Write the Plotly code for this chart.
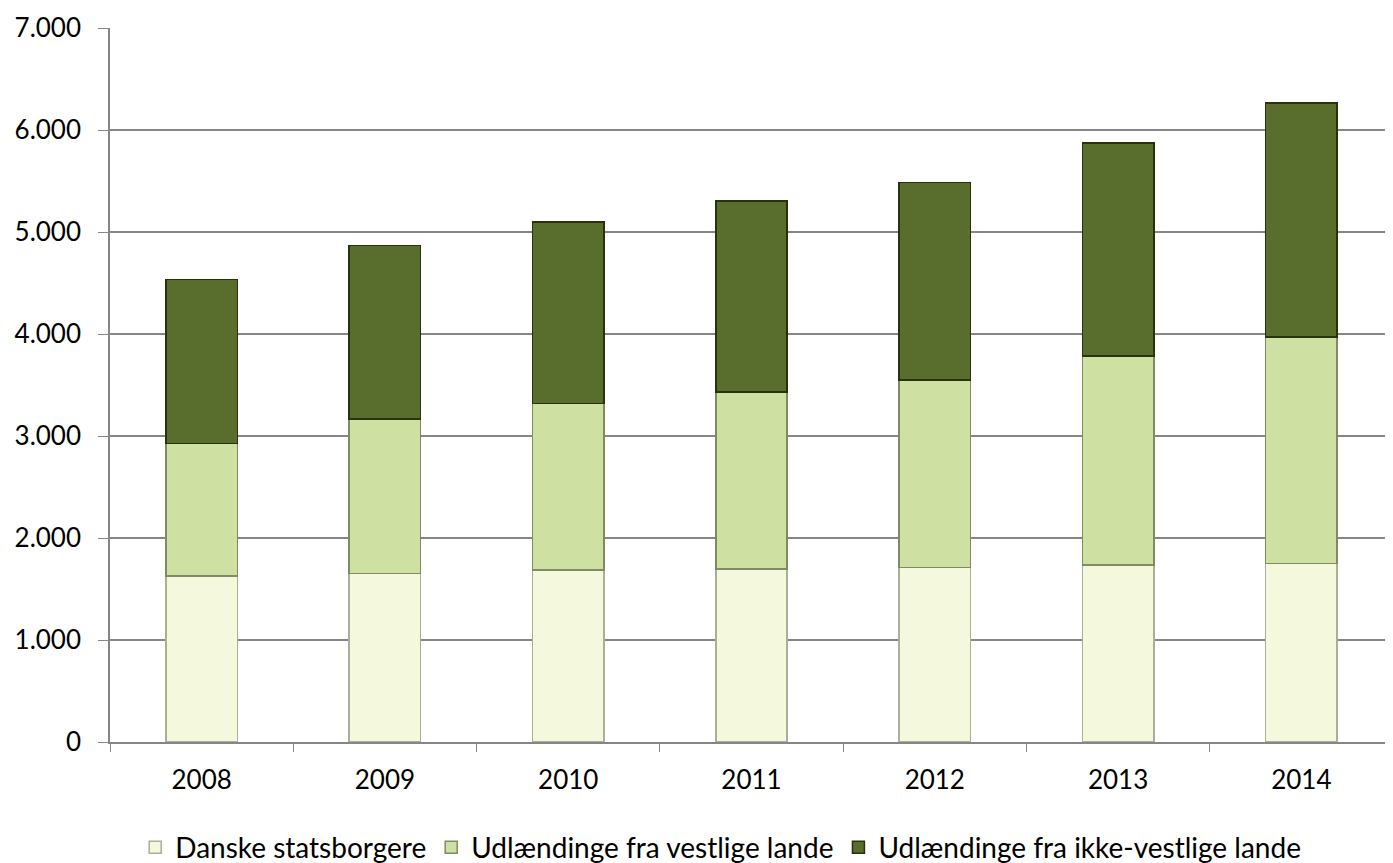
import plotly.graph_objects as go

years = ["2008", "2009", "2010", "2011", "2012", "2013", "2014"]
danske = [1628, 1654, 1687, 1696, 1713, 1735, 1752]
vestlige = [1300, 1511, 1633, 1737, 1834, 2047, 2219]
ikke_vestlige = [1606, 1705, 1776, 1871, 1937, 2093, 2296]

series = [
    ("Danske statsborgere", danske, "#F4F9DE", "#A9B098"),
    ("Udlændinge fra vestlige lande", vestlige, "#CEE1A3", "#7F8C62"),
    ("Udlændinge fra ikke-vestlige lande", ikke_vestlige, "#596D2D", "#28320F"),
]

fig = go.Figure()
for name, vals, col, line in series:
    fig.add_trace(go.Bar(
        x=years, y=vals, name=name,
        marker=dict(color=col, line=dict(color=line, width=1.5)),
    ))

font = "Lato, 'Open Sans', sans-serif"
fig.update_layout(
    barmode="stack",
    bargap=0.61,
    width=1393, height=863,
    margin=dict(l=102, r=8, t=20, b=129, autoexpand=False),
    plot_bgcolor="white", paper_bgcolor="white",
    separators=",.",
    font=dict(family=font, size=26, color="black"),
    legend=dict(orientation="h", x=0.476, xanchor="center", y=-0.148, yanchor="middle",
                font=dict(size=28), traceorder="normal", itemwidth=30),
    showlegend=True,
    xaxis=dict(showline=True, linecolor="#868686", linewidth=1.5, automargin=False,
               ticks="outside", tickson="boundaries", ticklen=8, tickcolor="#868686",
               tickfont=dict(size=26), ticklabelstandoff=14),
    yaxis=dict(range=[0, 7000], dtick=1000, tickformat=",d", automargin=False,
               showgrid=True, gridcolor="#868686", gridwidth=1.5,
               showline=True, linecolor="#868686", linewidth=1.5,
               ticks="outside", ticklen=10, tickcolor="#868686",
               tickfont=dict(size=26), ticklabelstandoff=12, zeroline=False),
)
fig.write_html("out.html")
